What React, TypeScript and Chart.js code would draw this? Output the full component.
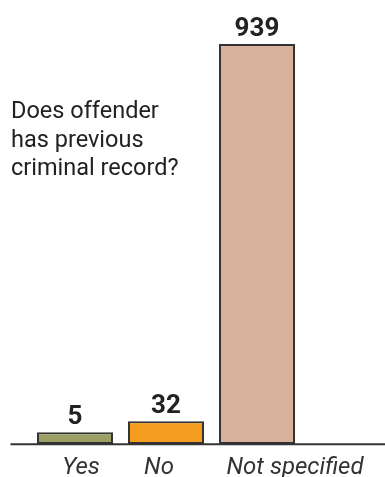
import React, { useEffect, useRef } from "react";
import { Chart, registerables } from "chart.js";

Chart.register(...registerables);

const categories = ["Yes", "No", "Not specified"];
const values = [5, 32, 939];
const barColors = ["#9b9f65", "#f49c20", "#d8b19d"];
const titleLines = ["Does offender", "has previous", "criminal record?"];
const AXIS_MIN = -23;
const AXIS_MAX = 939;
const LABEL_DX = [6, -7, 38];

const overlayPlugin = {
  id: "overlay",
  afterDatasetsDraw(chart: any) {
    const ctx = chart.ctx as CanvasRenderingContext2D;
    const area = chart.chartArea;
    const meta = chart.getDatasetMeta(0);
    const xScale = chart.scales.x;
    ctx.save();
    // value labels
    ctx.fillStyle = "#222222";
    ctx.font = "bold 26px Roboto";
    ctx.textAlign = "center";
    ctx.textBaseline = "alphabetic";
    meta.data.forEach((el: any, i: number) => {
      ctx.fillText(String(values[i]), el.x, el.y - 8);
    });
    // axis line
    ctx.strokeStyle = "#333333";
    ctx.lineWidth = 2;
    ctx.beginPath();
    ctx.moveTo(10.5, area.bottom + 0.3);
    ctx.lineTo(chart.width, area.bottom + 0.3);
    ctx.stroke();
    // category labels
    ctx.fillStyle = "#333333";
    ctx.font = "italic 24px Roboto";
    ctx.textAlign = "center";
    categories.forEach((c, i) => {
      ctx.fillText(c, xScale.getPixelForTick(i) + LABEL_DX[i], area.bottom + 30);
    });
    // title text
    ctx.fillStyle = "#222222";
    ctx.font = "23.5px Roboto";
    ctx.textAlign = "left";
    titleLines.forEach((t, i) => {
      ctx.fillText(t, 11, 118 + i * 28.5);
    });
    ctx.restore();
  },
};

export default function App() {
  const ref = useRef<HTMLCanvasElement | null>(null);
  useEffect(() => {
    if (!ref.current) return;
    const chart = new Chart(ref.current, {
      type: "bar",
      data: {
        labels: categories,
        datasets: [
          {
            data: values,
            backgroundColor: barColors,
            borderColor: "#333333",
            borderWidth: 2,
            borderSkipped: false,
            base: AXIS_MIN,
            barPercentage: 0.835,
            categoryPercentage: 1,
          } as any,
        ],
      },
      options: {
        animation: false,
        responsive: false,
        maintainAspectRatio: false,
        layout: { padding: { left: 29.5, right: 82.5, top: 44, bottom: 33 } },
        plugins: {
          legend: { display: false },
          tooltip: { enabled: false },
          title: { display: false },
        },
        scales: {
          x: { display: false, offset: true },
          y: { display: false, min: AXIS_MIN, max: AXIS_MAX },
        },
      },
      plugins: [overlayPlugin],
    });
    return () => chart.destroy();
  }, []);
  return (
    <div style={{ position: "fixed", left: 0, top: 0, width: 385, height: 477, background: "#ffffff" }}>
      <canvas ref={ref} width={385} height={477} style={{ width: 385, height: 477, display: "block" }} />
    </div>
  );
}
